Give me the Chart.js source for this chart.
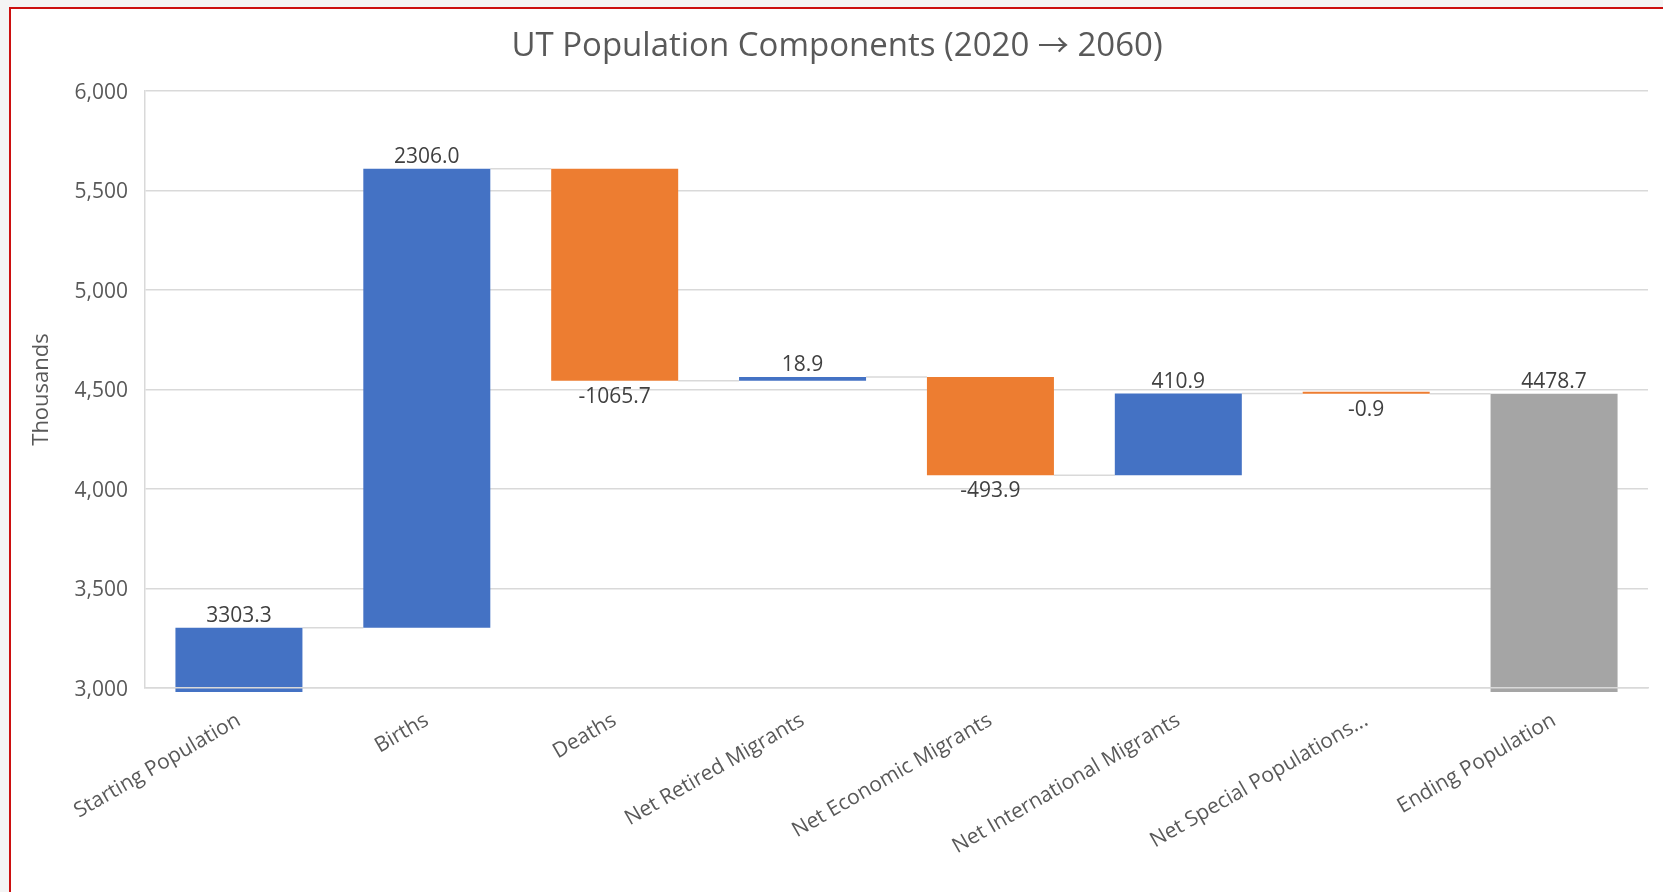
<!DOCTYPE html>
<html>
<head>
<meta charset="utf-8">
<title>UT Population Components</title>
<script src="https://cdn.jsdelivr.net/npm/chart.js@4/dist/chart.umd.min.js"></script>
<style>
  html, body { margin: 0; padding: 0; background: #f4f4f4; width: 1663px; height: 892px; overflow: hidden; }
  #frame {
    position: absolute; left: 9px; top: 7px;
    width: 1652px; height: 883px;
    border-left: 2px solid #cc1010; border-top: 2px solid #cc1010;
    background: #ffffff;
  }
  canvas { display: block; }
</style>
</head>
<body>
<div id="frame"><canvas id="chart" width="1652" height="883"></canvas></div>
<script>
// Components of population change, in thousands
const categories = [
  'Starting Population', 'Births', 'Deaths', 'Net Retired Migrants',
  'Net Economic Migrants', 'Net International Migrants',
  'Net Special Populations...', 'Ending Population'
];
const amounts = [3303.3, 2306.0, -1065.7, 18.9, -493.9, 410.9, -0.9, 4478.7];
const isTotal = [false, false, false, false, false, false, false, true];
const yTicks = { min: 3000, max: 6000, step: 500 };
const titleParts = ['UT Population Components (2020 ', '\u2192', ' 2060)'];

const COLOR_UP = '#4472c4';
const COLOR_DOWN = '#ed7d31';
const COLOR_TOTAL = '#a5a5a5';
const GRID = '#d9d9d9';
const FONT = '"Open Sans", "Noto Sans", sans-serif';
const ARROW_FONT = '"Noto Sans CJK JP", "DejaVu Sans", sans-serif';

// Build floating [start, end] ranges and running levels for the waterfall
const ranges = [];
const levels = [];
let running = 0;
amounts.forEach((v, i) => {
  if (isTotal[i]) {
    ranges.push([0, v]);
    running = v;
  } else {
    ranges.push([running, running + v]);
    running += v;
  }
  levels.push(running);
});
const barColors = amounts.map((v, i) => isTotal[i] ? COLOR_TOTAL : (v >= 0 ? COLOR_UP : COLOR_DOWN));

// Chart title, drawn in pieces so the arrow uses a font with a wide arrow glyph
const titlePlugin = {
  id: 'titlePieces',
  afterDraw(chart) {
    const ctx = chart.ctx;
    ctx.save();
    ctx.fillStyle = '#595959';
    ctx.textBaseline = 'alphabetic';
    ctx.textAlign = 'left';
    const fonts = ['33px ' + FONT, '31px ' + ARROW_FONT, '33px ' + FONT];
    const widths = titleParts.map((t, i) => { ctx.font = fonts[i]; return ctx.measureText(t).width; });
    const total = widths.reduce((a, b) => a + b, 0);
    let x = chart.width / 2 - total / 2;
    const y = 47;
    titleParts.forEach((t, i) => {
      ctx.font = fonts[i];
      ctx.fillText(t, x, y);
      x += widths[i];
    });
    ctx.restore();
  }
};

// Thin connector lines between consecutive bars
const connectors = {
  id: 'connectors',
  beforeDatasetsDraw(chart) {
    const meta = chart.getDatasetMeta(0);
    const y = chart.scales.y;
    const ctx = chart.ctx;
    ctx.save();
    ctx.strokeStyle = GRID;
    ctx.lineWidth = 1.5;
    for (let i = 0; i < meta.data.length - 1; i++) {
      const a = meta.data[i], b = meta.data[i + 1];
      const py = y.getPixelForValue(levels[i]);
      ctx.beginPath();
      ctx.moveTo(a.x + a.width / 2, py);
      ctx.lineTo(b.x - b.width / 2, py);
      ctx.stroke();
    }
    ctx.restore();
  }
};

// Value labels: above rising/total bars, below falling bars
const valueLabels = {
  id: 'valueLabels',
  afterDatasetsDraw(chart) {
    const meta = chart.getDatasetMeta(0);
    const ctx = chart.ctx;
    ctx.save();
    ctx.font = '21px ' + FONT;
    ctx.fillStyle = '#404040';
    ctx.textAlign = 'center';
    ctx.textBaseline = 'alphabetic';
    meta.data.forEach((bar, i) => {
      const top = Math.min(bar.y, bar.base);
      const bottom = Math.max(bar.y, bar.base);
      const text = amounts[i].toFixed(1);
      if (amounts[i] < 0 && !isTotal[i]) {
        ctx.fillText(text, bar.x, bottom + 22);
      } else {
        ctx.fillText(text, bar.x, top - 6);
      }
    });
    ctx.restore();
  }
};

new Chart(document.getElementById('chart'), {
  type: 'bar',
  data: {
    labels: categories,
    datasets: [{
      data: ranges,
      backgroundColor: barColors,
      borderWidth: 0,
      barPercentage: 0.676,
      categoryPercentage: 1.0,
      minBarLength: 2,
      clip: { left: false, right: false, top: false, bottom: 4 }
    }]
  },
  options: {
    responsive: false,
    animation: false,
    layout: { padding: { left: 0, right: 15, top: 82, bottom: 0 } },
    plugins: {
      legend: { display: false },
      tooltip: { enabled: false },
      title: { display: false }
    },
    scales: {
      x: {
        grid: { display: false, drawTicks: false },
        border: { display: true, color: GRID, width: 1.5, z: 1 },
        ticks: {
          color: '#595959',
          font: { family: FONT, size: 21 },
          minRotation: 30,
          maxRotation: 30,
          autoSkip: false,
          padding: 20
        },
        afterFit(scale) { scale.height = 204; }
      },
      y: {
        min: yTicks.min,
        max: yTicks.max,
        grid: { color: GRID, lineWidth: 1.5, drawTicks: false },
        border: { display: true, color: GRID, width: 1.5 },
        ticks: {
          stepSize: yTicks.step,
          color: '#595959',
          font: { family: FONT, size: 21 },
          padding: 17,
          labelOffset: 2,
          callback: (v) => v.toLocaleString('en-US')
        },
        title: {
          display: true,
          text: 'Thousands',
          color: '#595959',
          font: { family: FONT, size: 22 },
          padding: { top: 18, bottom: 0 }
        },
        afterFit(scale) { scale.width = 134; }
      }
    }
  },
  plugins: [connectors, valueLabels, titlePlugin]
});
</script>
</body>
</html>
